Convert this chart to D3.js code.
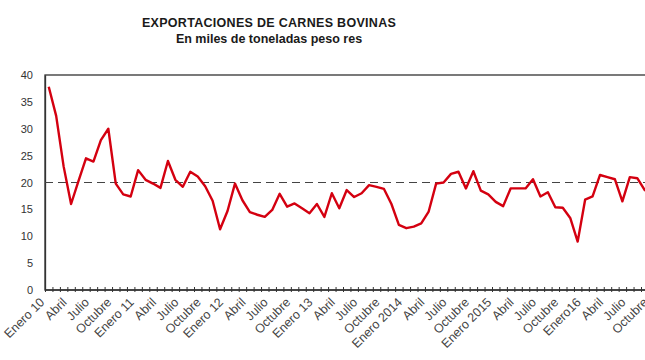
<!DOCTYPE html>
<html><head><meta charset="utf-8">
<script src="https://cdn.jsdelivr.net/npm/d3@7"></script>
<style>
body{margin:0;background:#fff}
svg{display:block}
text{font-family:"Liberation Sans",Arial,sans-serif}
</style>
</head><body>
<svg id="c" width="645" height="360"></svg>
<script>
// Monthly exports, thousand tonnes carcass weight, Jan 2010 .. Oct 2016
const values = [
  37.8, 32.4, 23.0, 16.0, 20.3, 24.5, 23.9, 27.9, 30.0, 19.8, 17.8, 17.4,
  22.3, 20.5, 19.8, 19.0, 24.0, 20.5, 19.2, 22.0, 21.1, 19.3, 16.6, 11.3,
  14.7, 19.8, 16.7, 14.5, 14.0, 13.6, 14.9, 17.9, 15.5, 16.1, 15.2, 14.3,
  16.0, 13.6, 18.0, 15.2, 18.6, 17.3, 18.0, 19.5, 19.2, 18.8, 16.0, 12.1,
  11.5, 11.8, 12.4, 14.6, 19.8, 20.0, 21.6, 22.0, 18.9, 22.1, 18.5, 17.8,
  16.4, 15.6, 18.9, 18.9, 18.9, 20.6, 17.4, 18.2, 15.4, 15.3, 13.4, 9.0,
  16.8, 17.4, 21.4, 21.0, 20.6, 16.5, 21.0, 20.8, 18.6, 18.0
];
const tickLabels = [
  "Enero 10","Abril","Julio","Octubre",
  "Enero 11","Abril","Julio","Octubre",
  "Enero 12","Abril","Julio","Octubre",
  "Enero 13","Abril","Julio","Octubre",
  "Enero 2014","Abril","Julio","Octubre",
  "Enero 2015","Abril","Julio","Octubre",
  "Enero16","Abril","Julio","Octubre"
];
const yTicks = [0, 5, 10, 15, 20, 25, 30, 35, 40];
const referenceLevel = 20;
const labelStep = 3;
const title = "EXPORTACIONES DE CARNES BOVINAS";
const subtitle = "En miles de toneladas peso res";

(function () {
const svg = d3.select("#c");
const n = values.length;
const pLeft = 45, pTop = 75, pBottom = 290, step = 7.45;
const x = d3.scaleLinear().domain([-0.5, n - 0.5]).range([pLeft, pLeft + n * step]);
const y = d3.scaleLinear().domain([0, 40]).range([pBottom, pTop]);
const font = '"Liberation Sans",Arial,sans-serif';

// titles
svg.append("text").attr("x", 269).attr("y", 27).attr("text-anchor", "middle")
  .attr("font-size", 12.5).attr("font-weight", "bold").attr("fill", "#1a1a1a")
  .attr("letter-spacing", 0.3).text(title);
svg.append("text").attr("x", 269).attr("y", 43).attr("text-anchor", "middle")
  .attr("font-size", 12.5).attr("font-weight", "bold").attr("fill", "#1a1a1a")
  .text(subtitle);

// frame
svg.append("rect").attr("x", x(-0.5)).attr("y", pTop)
  .attr("width", x(n - 0.5) - x(-0.5)).attr("height", pBottom - pTop)
  .attr("fill", "none").attr("stroke", "#333").attr("stroke-width", 1.3);

// y axis
const yAxis = svg.append("g").attr("transform", `translate(${pLeft},0)`)
  .call(d3.axisLeft(y).tickValues(yTicks).tickSize(0).tickPadding(12));
yAxis.select(".domain").attr("stroke", "#333").attr("stroke-width", 1.3);
yAxis.selectAll("text").attr("font-size", 11).attr("fill", "#333").style("font-family", font);

// x axis ticks (category boundaries)
const bounds = d3.range(n + 1).map(k => k - 0.5);
const xTicks = svg.append("g").attr("transform", `translate(0,${pBottom + 2})`)
  .call(d3.axisBottom(x).tickValues(bounds).tickSizeInner(-5).tickSizeOuter(0).tickFormat(""));
xTicks.select(".domain").remove();
xTicks.selectAll("line").attr("stroke", "#333").attr("stroke-width", 1);
svg.append("line").attr("x1", x(-0.5)).attr("x2", x(n - 0.5))
  .attr("y1", pBottom).attr("y2", pBottom).attr("stroke", "#333").attr("stroke-width", 1.3);

// x labels
const labelIdx = tickLabels.map((d, i) => i * labelStep);
const xLab = svg.append("g").attr("transform", `translate(0,${pBottom})`)
  .call(d3.axisBottom(x).tickValues(labelIdx).tickSize(0)
    .tickFormat((d, i) => tickLabels[i]));
xLab.select(".domain").remove();
xLab.selectAll("text")
  .attr("text-anchor", "end")
  .attr("font-size", 12.5).attr("fill", "#444").style("font-family", font)
  .attr("dy", null).attr("y", null)
  .attr("transform", "translate(-4,13) rotate(-45)");

// reference dashed line
svg.append("line").attr("x1", x(-0.5)).attr("x2", x(n - 0.5))
  .attr("y1", y(referenceLevel)).attr("y2", y(referenceLevel))
  .attr("stroke", "#444").attr("stroke-width", 1.2).attr("stroke-dasharray", "8,5");

// series
const line = d3.line().x((d, i) => x(i)).y(d => y(d));
svg.append("path").datum(values).attr("d", line)
  .attr("fill", "none").attr("stroke", "#d40010").attr("stroke-width", 2.4)
  .attr("stroke-linejoin", "round");
})();
</script>
</body></html>
